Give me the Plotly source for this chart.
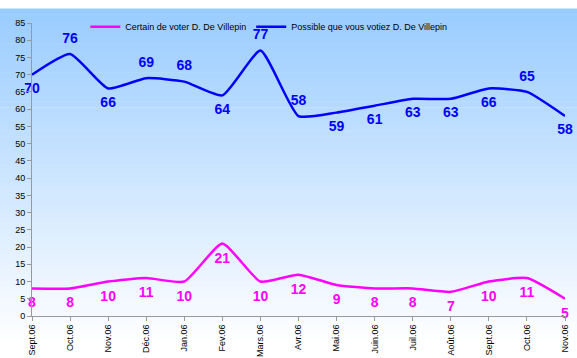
import plotly.graph_objects as go

months = ["Sept.06", "Oct.06", "Nov.06", "Déc.06", "Jan.06", "Fev.06", "Mars.06", "Avr.06",
          "Mai.06", "Juin.06", "Juil.06", "Août.06", "Sept.06", "Oct.06", "Nov.06"]
certain = [8, 8, 10, 11, 10, 21, 10, 12, 9, 8, 8, 7, 10, 11, 5]
possible = [70, 76, 66, 69, 68, 64, 77, 58, 59, 61, 63, 63, 66, 65, 58]
y_ticks = list(range(0, 90, 5))

x = list(range(len(months)))

possible_pos = ["bottom center", "top center", "bottom center", "top center", "top center",
                "bottom center", "top center", "top center", "bottom center", "bottom center",
                "bottom center", "bottom center", "bottom center", "top center", "bottom center"]

fig = go.Figure()

# gradient background
W, H = 577, 358
l, r, t, b = 32, 12, 15, 42
pw, ph = W - l - r, H - t - b
n = 60
for i in range(n):
    y0 = H * i / n
    y1 = H * (i + 1) / n + 0.5
    f = (i + 0.5) / n
    c0 = (153, 204, 255)
    c1 = (255, 255, 255)
    col = tuple(int(c0[k] + (c1[k] - c0[k]) * min(1, f * 1.05)) for k in range(3))
    fig.add_shape(type="rect", xref="paper", yref="paper",
                  x0=-l / pw, x1=(W - l) / pw,
                  y0=(H - b - y0) / ph, y1=(H - b - y1) / ph,
                  fillcolor="rgb(%d,%d,%d)" % col, line=dict(width=0), layer="below")

fig.add_trace(go.Scatter(
    x=x, y=certain, mode="lines+markers+text", name="Certain de voter D. De Villepin",
    line=dict(color="#FF00FF", width=2.5, shape="spline", smoothing=0.5),
    marker=dict(size=12, color="rgba(0,0,0,0)", line=dict(width=0, color="rgba(0,0,0,0)")),
    text=[str(v) for v in certain], textposition="bottom center",
    textfont=dict(family="Liberation Sans", size=14, color="#FF00FF", weight="bold"),
    cliponaxis=False,
))
fig.add_trace(go.Scatter(
    x=x, y=possible, mode="lines+markers+text", name="Possible que vous votiez D. De Villepin",
    line=dict(color="#0000FF", width=2.5, shape="spline", smoothing=0.5),
    marker=dict(size=11, color="rgba(0,0,0,0)",
                line=dict(width=0, color="rgba(0,0,0,0)")),
    text=[str(v) for v in possible], textposition=possible_pos,
    textfont=dict(family="Liberation Sans", size=14, color="#0000FF", weight="bold"),
    cliponaxis=False,
))

fig.update_layout(
    width=W, height=H,
    margin=dict(l=l, r=r, t=t, b=b),
    paper_bgcolor="rgba(0,0,0,0)", plot_bgcolor="rgba(0,0,0,0)",
    font=dict(family="Liberation Sans", size=9, color="black"),
    showlegend=True,
    legend=dict(orientation="h", x=0.10, xanchor="left", y=1.037, yanchor="top",
                bgcolor="rgba(0,0,0,0)", font=dict(size=9), itemwidth=30),
    xaxis=dict(range=[0, len(months) - 1], tickmode="array", tickvals=x, ticktext=months,
               tickangle=-90, showline=True, linecolor="#999999", linewidth=1,
               ticks="outside", ticklen=4, tickcolor="#999999", showgrid=False,
               zeroline=False, tickfont=dict(size=9), automargin=False),
    yaxis=dict(range=[0, 85], tickmode="array", tickvals=y_ticks,
               showline=True, linecolor="#999999", linewidth=1,
               ticks="outside", ticklen=4, tickcolor="#999999", showgrid=False,
               zeroline=False, tickfont=dict(size=9), automargin=False),
)

fig.write_html("out.html", config={"displayModeBar": False},
               post_script="document.body.style.margin='0';document.body.style.overflow='hidden';")
